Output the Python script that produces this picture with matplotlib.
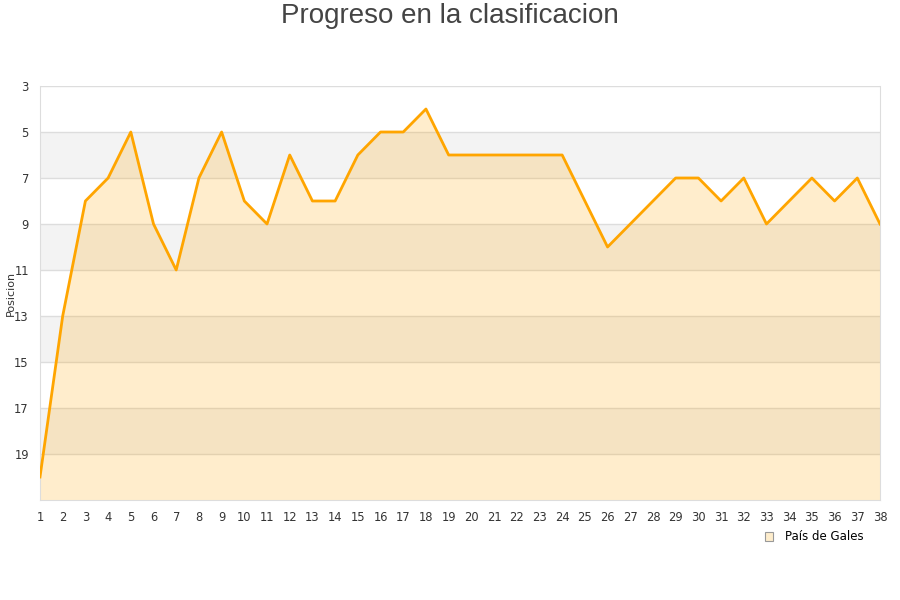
import matplotlib.pyplot as plt
from matplotlib.patches import Patch

# Jornadas y posiciones (eje invertido)
rounds = list(range(1, 39))
positions = [20, 13, 8, 7, 5, 9, 11, 7, 5, 8,
             9, 6, 8, 8, 6, 5, 5, 4, 6, 6,
             6, 6, 6, 6, 8, 10, 9, 8, 7, 7,
             8, 7, 9, 8, 7, 8, 7, 9]
y_ticks = [3, 5, 7, 9, 11, 13, 15, 17, 19]
team = "País de Gales"

LINE = "#ffa500"
TEXT = "#444444"

fig = plt.figure(figsize=(9, 6), dpi=100)
ax = fig.add_axes([40 / 900, 1 - 500 / 600, 840 / 900, 414 / 600])

# alternating horizontal bands
for lo in range(5, 21, 4):
    ax.axhspan(lo, lo + 2, color="#f3f3f3", zorder=0, lw=0)
for t in y_ticks:
    ax.axhline(t, color="#dddddd", lw=1, zorder=1)

ax.fill_between(rounds, positions, 21, color=LINE, alpha=0.2, lw=0, zorder=2)
ax.plot(rounds, positions, color=LINE, lw=2.0, zorder=3)

ax.set_xlim(1, 38)
ax.set_ylim(21, 3)
ax.set_xticks(rounds)
ax.set_yticks(y_ticks)
ax.tick_params(length=0, labelsize=8.3, colors="#333333", pad=8)
ax.tick_params(axis="y", pad=8)
for side in ("left", "bottom", "right"):
    ax.spines[side].set_color("#dddddd")
ax.spines["top"].set_visible(False)

fig.text(11 / 900, 1 - 293 / 600, "Posicion", rotation=90, ha="center",
         va="center", fontsize=8, color="#333333")
fig.text(0.5, 0.995, "Progreso en la clasificacion", ha="center", va="top",
         fontsize=20, color=TEXT, family="Liberation Sans")

handle = Patch(facecolor="#feedcc", edgecolor="#999999", lw=0.8)
fig.legend([handle], [team], loc="center", bbox_to_anchor=(0.905, 0.105),
           frameon=False, fontsize=8.5, handlelength=0.7, handleheight=0.7,
           handletextpad=1.0)

fig.savefig("out.png", dpi=100)
